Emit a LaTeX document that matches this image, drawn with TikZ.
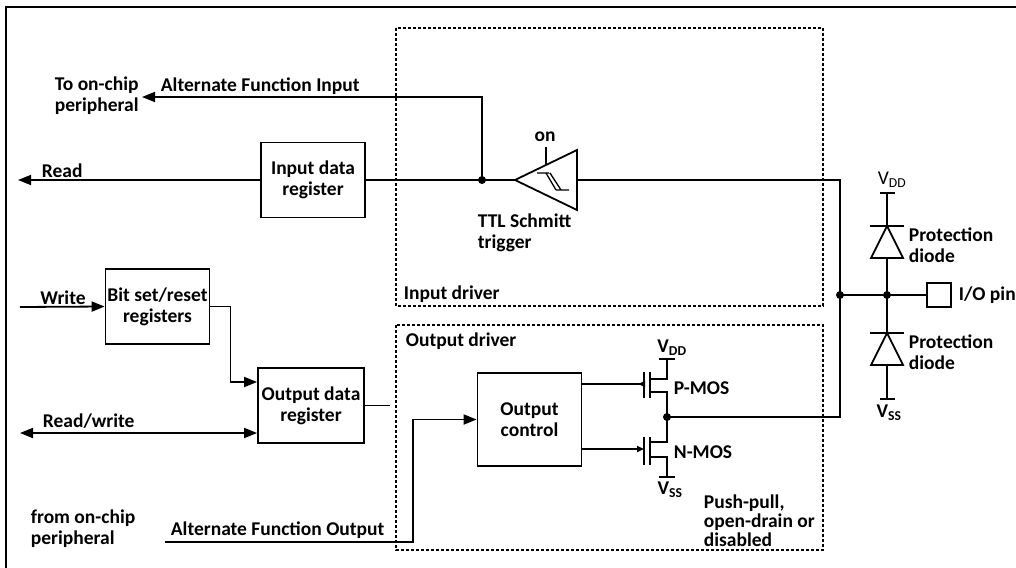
\documentclass[tikz,border=0pt]{standalone}
\usepackage{fontspec}
\setmainfont{Carlito}
\usetikzlibrary{arrows.meta,positioning,calc}

\begin{document}
\begin{tikzpicture}[x=1pt,y=-1pt,>={Triangle[length=13pt,width=10pt]},
	line width=1.8pt,font=\fontsize{19.5}{21}\selectfont\bfseries,
	reg/.style={draw,rectangle,minimum width=104pt,minimum height=75pt,align=center,inner sep=0pt},
	dot/.style={fill=black,circle,inner sep=0pt,minimum size=8pt},
	drv/.style={draw,line width=1.3pt,dash pattern=on 3pt off 2pt},
	lbl/.style={inner sep=0pt,align=left},
	gate/.style={-{Triangle[length=7pt,width=6pt]}}]

\useasboundingbox (0,0) rectangle (1016,567);
\draw [line width=1.8pt] (6,7) rectangle (1030,580);

% driver frames
\draw [drv] (396,28) rectangle (823,306);
\draw [drv] (396,325) rectangle (823,550);
\node [lbl,anchor=base west] (indrv) at (403,299) {Input driver};
\node [lbl,anchor=base west] (outdrv) at (405,346) {Output driver};

% registers
\node [reg] (idr) at (313,180) {Input data\\register};
\node [reg] (bsr) at (157.5,306.5) {Bit set/reset\\registers};
\node [reg,minimum width=106pt] (odr) at (311,405.5) {Output data\\register};
\node [reg,minimum height=93pt] (oc) at (529.5,419.5) {Output\\control};

% schmitt trigger
\coordinate (st-in) at (577,180);
\coordinate (st-out) at (515,180);
\draw (st-out) -- (577,150) -- (577,210) -- cycle;
\draw (546,165) -- (546,147);
\node [lbl] (on) at (545,137) {on};
\draw [line width=1.3pt] (537,173) -- (549,173) (546,173) -- (556,190)
	(550,173) -- (561,190) (556,190) -- (569,190);
\node [lbl,anchor=west] (stlbl) at (477,233) {TTL Schmitt\\trigger};

% input path
\coordinate (j1) at (482,180);
\coordinate (rd) at (18,180);
\coordinate (afi) at (142,97);
\draw (st-out) -- (idr.east);
\draw [->] (idr.west) -- (rd);
\draw [->] (j1) |- (afi);
\node [dot] at (j1) {};
\node [lbl,anchor=base west] (rdlbl) at (41,177) {Read};
\node [lbl,anchor=base west] (afilbl) at (160,92) {Alternate Function Input};
\node [lbl,anchor=west] (tolbl) at (54,96) {To on-chip\\peripheral};

% output path
\coordinate (wr) at (20,307);
\coordinate (rw) at (20,433);
\coordinate (afo) at (165,542);
\draw [->] (wr) -- (bsr.west);
\draw [->] (bsr.east) -- ++(20,0) |- ($(odr.west)+(0,-23.5)$);
\draw [<->] (rw) -- ($(odr.west)+(0,27.5)$);
\draw (odr.east) -- ++(25,0);
\draw [->] (afo) -- ++(248,0) |- (oc.west);
\node [lbl,anchor=base] (wrlbl) at (63,304) {Write};
\node [lbl,anchor=base west] (rwlbl) at (42,427) {Read/write};
\node [lbl,anchor=base west] (afolbl) at (170,535) {Alternate Function Output};
\node [lbl,anchor=west] (fromlbl) at (30,529) {from on-chip\\peripheral};

% push-pull stage
\coordinate (pg) at (644,384);
\coordinate (ng) at (644,449);
\coordinate (nd) at (667,417);
\draw (644,372) -- (644,398) (650,372) -- (650,398);
\draw (644,437) -- (644,465) (650,437) -- (650,465);
\draw (659,359) -- (675,359) (667,359) |- (650,379);
\draw (650,392) -| (nd) |- (650,442);
\draw (650,457) -| (667,477) (659,477) -- (675,477);
\draw (oc.east |- pg) -- (pg);
\draw [gate] (pg) -- ++(-6,0);
\draw [gate] (oc.east |- ng) -- (ng);
\node [dot] at (nd) {};
\node [lbl] (pvdd) at (672,348) {V\textsubscript{DD}};
\node [lbl] (nvss) at (670,490) {V\textsubscript{SS}};
\node [lbl,anchor=west] (pmos) at (673,388) {P-MOS};
\node [lbl,anchor=west] (nmos) at (673,452) {N-MOS};
\node [lbl,anchor=west,font=\fontsize{19.5}{19}\selectfont\bfseries] (pplbl) at (703,521)
	{Push-pull,\\open-drain or\\disabled};

% pin and protection diodes
\coordinate (j2) at (840,295);
\coordinate (j3) at (887,295);
\node [draw,minimum size=24pt,inner sep=0pt] (pin) at (939,295) {};
\node [lbl,right=6pt of pin] (pinlbl) {I/O pin};
\draw (st-in) -| (j2) |- (nd);
\draw (j2) -- (j3) -- (pin.west);
\draw (887,193) -- (887,399);
\draw (880,193) -- (895,193) (880,399) -- (895,399);
\foreach \y in {226,333} {
	\draw [fill=white] (887,\y) -- (871,\y+32) -- (903,\y+32) -- cycle;
	\draw (870,\y) -- (904,\y);
	\node [lbl,anchor=west] at (908,\y+19) {Protection\\diode};
}
\node [dot] at (j2) {};
\node [dot] at (j3) {};
\node [lbl,font=\fontsize{19.5}{21}\selectfont] (dvdd) at (892,180) {V\textsubscript{DD}};
\node [lbl] (dvss) at (889,413) {V\textsubscript{SS}};

\end{tikzpicture}
\end{document}
